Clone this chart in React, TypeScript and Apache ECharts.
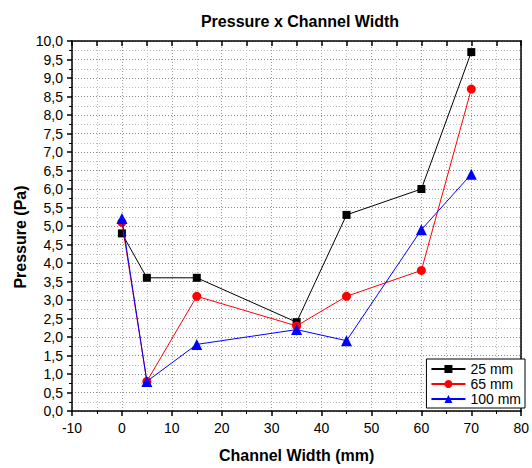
import React, { useEffect, useRef } from "react";
import * as echarts from "echarts";

const widths = [0, 5, 15, 35, 45, 60, 70];
const p25 = [4.8, 3.6, 3.6, 2.4, 5.3, 6.0, 9.7];
const p65 = [5.1, 0.8, 3.1, 2.3, 3.1, 3.8, 8.7];
const p100 = [5.2, 0.8, 1.8, 2.2, 1.9, 4.9, 6.4];
const seriesNames = ["25 mm", "65 mm", "100 mm"];

const FONT = "Liberation Sans, Arial, sans-serif";

export default function App() {
  const ref = useRef<HTMLDivElement>(null);
  useEffect(() => {
    document.body.style.margin = "0";
    const chart = echarts.init(ref.current!, undefined, { renderer: "svg" });
    const pair = (ys: number[]) => widths.map((x, i) => [x, ys[i]]);
    const fmt = (v: number) => v.toFixed(1).replace(".", ",");
    const axisLineStyle = { color: "#000", width: 1.5 };
    chart.setOption({
      animation: false,
      backgroundColor: "#fff",
      title: {
        text: "Pressure x Channel Width",
        left: 295,
        textAlign: "center",
        top: 8,
        textStyle: { fontFamily: FONT, fontSize: 16, fontWeight: "bold", color: "#000" },
      },
      graphic: [
        {
          type: "text",
          x: 20,
          y: 237,
          rotation: Math.PI / 2,
          style: {
            text: "Pressure (Pa)",
            fontFamily: FONT,
            fontSize: 16,
            fontWeight: "bold",
            fill: "#000",
            align: "center",
            verticalAlign: "middle",
          },
        },
      ],
      grid: { left: 72, right: 7, top: 41, bottom: 56, containLabel: false },
      legend: {
        orient: "vertical",
        right: 7,
        bottom: 60,
        backgroundColor: "#fff",
        borderColor: "#000",
        borderWidth: 1,
        borderRadius: 0,
        padding: [3, 4, 2, 4],
        itemGap: 1,
        itemWidth: 34,
        itemHeight: 10,
        data: seriesNames,
        textStyle: { fontFamily: FONT, fontSize: 14, color: "#000" },
      },
      xAxis: [
        {
          type: "value",
          min: -10,
          max: 80,
          interval: 10,
          name: "Channel Width (mm)",
          nameLocation: "middle",
          nameGap: 36,
          nameTextStyle: { fontFamily: FONT, fontSize: 16, fontWeight: "bold", color: "#000" },
          axisLine: { show: true, onZero: false, lineStyle: axisLineStyle },
          axisTick: { show: true, inside: false, length: 5, lineStyle: { color: "#000", width: 1.5 } },
          minorTick: { show: true, splitNumber: 2, length: 3, lineStyle: { color: "#000", width: 1 } },
          axisLabel: { fontFamily: FONT, fontSize: 14, color: "#000", margin: 10 },
          splitLine: { show: true, lineStyle: { color: "#999", type: [1, 2], width: 1 } },
          minorSplitLine: { show: true, lineStyle: { color: "#bbb", type: [1, 2], width: 1 } },
        },
        {
          type: "value",
          position: "top",
          min: -10,
          max: 80,
          interval: 5,
          axisLine: { show: true, onZero: false, lineStyle: axisLineStyle },
          axisTick: { show: true, inside: true, length: 5, lineStyle: { color: "#000", width: 1.5 } },
          axisLabel: { show: false },
          splitLine: { show: false },
        },
      ],
      yAxis: [
        {
          type: "value",
          min: 0,
          max: 10,
          interval: 0.5,
          axisLine: { show: true, onZero: false, lineStyle: axisLineStyle },
          axisTick: { show: true, inside: false, length: 5, lineStyle: { color: "#000", width: 1.5 } },
          minorTick: { show: true, splitNumber: 2, length: 3, lineStyle: { color: "#000", width: 1 } },
          axisLabel: { fontFamily: FONT, fontSize: 14, color: "#000", margin: 9, formatter: fmt },
          splitLine: { show: true, lineStyle: { color: "#888", type: [1, 2], width: 1 } },
          minorSplitLine: { show: true, lineStyle: { color: "#bbb", type: [1, 2], width: 1 } },
        },
        {
          type: "value",
          position: "right",
          min: 0,
          max: 10,
          interval: 0.5,
          axisLine: { show: true, onZero: false, lineStyle: axisLineStyle },
          axisTick: { show: false },
          axisLabel: { show: false },
          splitLine: { show: false },
        },
      ],
      series: [
        {
          name: seriesNames[0],
          type: "line",
          data: pair(p25),
          symbol: "rect",
          symbolSize: 8,
          itemStyle: { color: "#000" },
          lineStyle: { color: "#000", width: 1 },
          z: 2,
        },
        {
          name: seriesNames[1],
          type: "line",
          data: pair(p65),
          symbol: "circle",
          symbolSize: 9,
          itemStyle: { color: "#ff0000" },
          lineStyle: { color: "#ff0000", width: 1 },
          z: 3,
        },
        {
          name: seriesNames[2],
          type: "line",
          data: pair(p100),
          symbol: "triangle",
          symbolSize: 11,
          itemStyle: { color: "#0000ff" },
          lineStyle: { color: "#0000ff", width: 1 },
          z: 4,
        },
      ],
    });
    return () => chart.dispose();
  }, []);
  return <div ref={ref} style={{ width: 532, height: 468 }} />;
}
